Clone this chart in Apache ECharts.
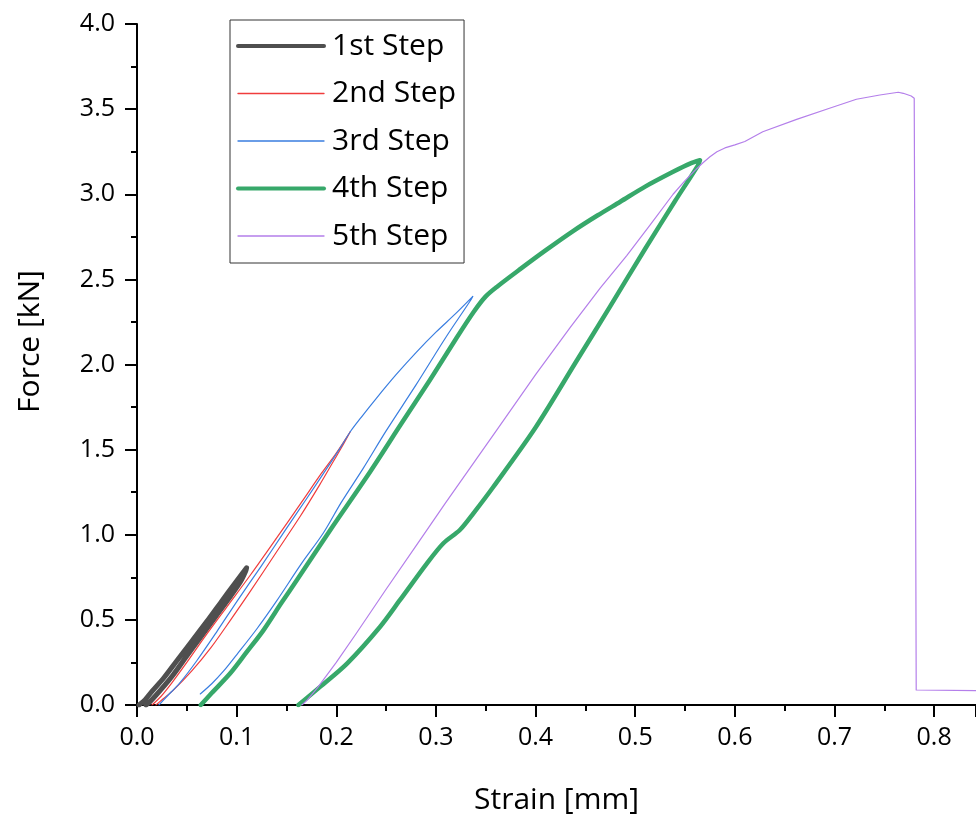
<!DOCTYPE html>
<html>
<head>
<meta charset="utf-8">
<script src="https://cdn.jsdelivr.net/npm/echarts@6/dist/echarts.min.js"></script>
<style>
  html, body { margin: 0; padding: 0; background: #fff; }
  #chart { width: 976px; height: 816px; }
</style>
</head>
<body>
<div id="chart"></div>
<script>
// Force–strain curves of a five-step cyclic loading test, [strain mm, force kN]
const stepNames = ['1st Step', '2nd Step', '3rd Step', '4th Step', '5th Step'];

const step1 = [
  [0.002, 0], [0.008, 0.03], [0.015, 0.08], [0.027, 0.16], [0.04, 0.26], [0.055, 0.375],
  [0.07, 0.49], [0.085, 0.61], [0.097, 0.705], [0.106, 0.775], [0.110, 0.806],
  [0.109, 0.785], [0.104, 0.725], [0.094, 0.64], [0.079, 0.52], [0.064, 0.40], [0.049, 0.28],
  [0.036, 0.175], [0.024, 0.09], [0.014, 0.025], [0.009, 0]
];

const step2 = [
  [0.015, 0], [0.024, 0.05], [0.035, 0.13], [0.05, 0.25], [0.068, 0.40], [0.09, 0.575],
  [0.114, 0.765], [0.14, 0.98], [0.165, 1.19], [0.185, 1.36], [0.2, 1.48], [0.214, 1.605],
  [0.207, 1.53], [0.197, 1.43], [0.183, 1.29], [0.164, 1.11], [0.139, 0.89], [0.114, 0.67],
  [0.094, 0.50], [0.074, 0.335], [0.055, 0.2], [0.037, 0.09], [0.026, 0.035], [0.019, 0]
];

const step3 = [
  [0.022, 0], [0.03, 0.05], [0.043, 0.13], [0.06, 0.26], [0.08, 0.43], [0.101, 0.615],
  [0.124, 0.81], [0.148, 1.02], [0.17, 1.21], [0.19, 1.385], [0.204, 1.51], [0.214, 1.605],
  [0.225, 1.69], [0.24, 1.8], [0.26, 1.94], [0.28, 2.07], [0.3, 2.19], [0.32, 2.3], [0.337, 2.40],
  [0.334, 2.37], [0.31, 2.16], [0.28, 1.88], [0.25, 1.61], [0.227, 1.39], [0.205, 1.19],
  [0.187, 1.01], [0.165, 0.83], [0.14, 0.61], [0.12, 0.445], [0.10, 0.295], [0.087, 0.2],
  [0.075, 0.125], [0.0635, 0.065]
];

const step4 = [
  [0.064, 0], [0.075, 0.07], [0.0936, 0.186], [0.11, 0.31], [0.127, 0.44], [0.145, 0.6],
  [0.1605, 0.734], [0.194, 1.028], [0.234, 1.37], [0.265, 1.65], [0.294, 1.909], [0.32, 2.15],
  [0.338, 2.31], [0.35, 2.4], [0.362, 2.46], [0.3845, 2.56], [0.41, 2.67], [0.438, 2.785],
  [0.462, 2.875], [0.485, 2.956], [0.51, 3.045], [0.538, 3.132], [0.555, 3.18], [0.565, 3.20],
  [0.563, 3.17], [0.54, 2.96], [0.51, 2.68], [0.4747, 2.34], [0.44, 2.01], [0.4, 1.63],
  [0.3577, 1.282], [0.3376, 1.126], [0.324, 1.028], [0.3075, 0.95], [0.291, 0.832],
  [0.264, 0.617], [0.244, 0.46], [0.211, 0.245], [0.184, 0.108], [0.162, 0]
];

const step5 = [
  [0.1655, 0], [0.171, 0.03], [0.176, 0.065], [0.181, 0.1], [0.187, 0.147], [0.2, 0.25],
  [0.22, 0.42], [0.25, 0.68], [0.28, 0.935], [0.31, 1.19], [0.34, 1.44], [0.361, 1.615],
  [0.4, 1.94], [0.435, 2.22], [0.465, 2.45], [0.4915, 2.64], [0.515, 2.82], [0.538, 3.0],
  [0.55, 3.08], [0.56, 3.14], [0.568, 3.185], [0.575, 3.22], [0.582, 3.25], [0.59, 3.272],
  [0.6, 3.29], [0.61, 3.31], [0.628, 3.367], [0.662, 3.44], [0.695, 3.505], [0.722, 3.558],
  [0.7455, 3.583], [0.764, 3.599], [0.769, 3.593], [0.777, 3.577], [0.780, 3.564],
  [0.781, 2.0], [0.782, 0.088], [0.842, 0.085]
];

const strainTicks = [0, 0.1, 0.2, 0.3, 0.4, 0.5, 0.6, 0.7, 0.8];
const forceTicks = [0, 0.5, 1.0, 1.5, 2.0, 2.5, 3.0, 3.5, 4.0];

const FONT = '"Open Sans", sans-serif';
const stepColors = ['#4f4f4f', '#f03c3c', '#3a7ee0', '#37a86a', '#b47fea'];
const stepWidths = [5, 1.2, 1.2, 4.5, 1.2];
const legendWidths = [4, 1.3, 1.3, 4, 1.3];
const stepSmooth = [0.3, 0.3, 0.3, 0.3, false];
const stepData = [step1, step2, step3, step4, step5];

const chart = echarts.init(document.getElementById('chart'), null, { renderer: 'canvas' });

const axisCommon = {
  type: 'value',
  axisLine: { show: true, onZero: false, lineStyle: { color: '#000', width: 2 } },
  axisTick: { show: true, inside: false, length: 12, lineStyle: { color: '#000', width: 2 } },
  minorTick: { show: true, splitNumber: 2, length: 6, lineStyle: { color: '#000', width: 2 } },
  splitLine: { show: false },
  minorSplitLine: { show: false }
};

const onTick = (v, list) => list.some(t => Math.abs(t - v) < 1e-6);

chart.setOption({
  animation: false,
  backgroundColor: '#fff',
  grid: { left: 137, top: 24, right: 0, bottom: 111, containLabel: false, outerBoundsMode: 'none' },
  legend: {
    orient: 'vertical',
    left: 230,
    top: 20,
    data: stepNames.map((name, i) => ({
      name,
      itemStyle: { opacity: 0 },
      lineStyle: { width: legendWidths[i], color: stepColors[i] }
    })),
    itemWidth: 86,
    itemHeight: 30,
    itemGap: 17.5,
    padding: [11, 8, 12, 6],
    borderColor: '#333',
    borderWidth: 1,
    backgroundColor: '#fff',
    selectedMode: false,
    textStyle: { fontFamily: FONT, fontSize: 30, color: '#000', lineHeight: 27, padding: [3, 0, 0, 3] }
  },
  xAxis: Object.assign({}, axisCommon, {
    min: 0,
    max: 0.842,
    interval: 0.1,
    name: 'Strain [mm]',
    nameLocation: 'middle',
    nameGap: 80,
    nameTextStyle: { fontFamily: FONT, fontSize: 30, color: '#000' },
    axisLabel: {
      margin: 20,
      fontFamily: FONT, fontSize: 25, color: '#000',
      showMaxLabel: false,
      formatter: v => onTick(v, strainTicks) ? v.toFixed(1) : ''
    }
  }),
  yAxis: Object.assign({}, axisCommon, {
    min: 0,
    max: 4,
    interval: 0.5,
    name: 'Force [kN]',
    nameLocation: 'middle',
    nameRotate: 90,
    nameGap: 92,
    nameTextStyle: { fontFamily: FONT, fontSize: 30, color: '#000', padding: [0, 0, 0, 46] },
    axisLabel: {
      margin: 22,
      fontFamily: FONT, fontSize: 25, color: '#000',
      formatter: v => onTick(v, forceTicks) ? v.toFixed(1) : ''
    }
  }),
  series: stepNames.map((name, i) => ({
    name,
    type: 'line',
    data: stepData[i],
    symbol: 'none',
    showSymbol: false,
    smooth: stepSmooth[i],
    clip: true,
    silent: true,
    color: stepColors[i],
    lineStyle: { color: stepColors[i], width: stepWidths[i], cap: 'round', join: 'round' },
    itemStyle: { color: stepColors[i] },
    emphasis: { disabled: true },
    z: 2 + i
  }))
});
</script>
</body>
</html>
